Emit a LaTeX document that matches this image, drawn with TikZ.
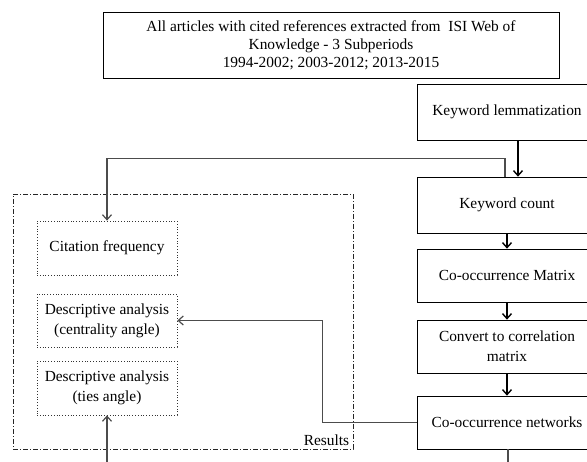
\documentclass[tikz,border=0pt]{standalone}
\usepackage{fontspec}
\setmainfont{Liberation Serif}
\usetikzlibrary{arrows.meta}
\begin{document}
\begin{tikzpicture}
      [x=1pt,y=-1pt,
      every node/.style={font=\fontsize{15.4}{20}\selectfont,align=center,inner sep=0pt},
      flowbox/.style={draw,line width=0.7pt,minimum width=180pt,minimum height=54pt},
      resbox/.style={draw=black!80,dotted,line width=0.8pt,minimum width=140pt,minimum height=54pt},
      arr/.style={line width=1.4pt,-{Straight Barb[length=5pt,width=9pt]}},
      fb/.style={draw=black!70,line width=1.2pt},
      fbarr/.style={fb,-{Straight Barb[length=5pt,width=9pt]}}]
      \useasboundingbox (0,0) rectangle (587,462);
      \clip (0,0) rectangle (587,462);
      \node[draw,line width=0.7pt,minimum width=456pt,minimum height=66pt,
        font=\fontsize{15.4}{18}\selectfont] (source) at (331,45)
        {All articles with cited references extracted from\ \ ISI Web of\\
        Knowledge - 3 Subperiods\\ 1994-2002; 2003-2012; 2013-2015};
      \node[flowbox,minimum height=56pt] (lemma) at (507,112) {Keyword lemmatization};
      \node[flowbox,minimum height=56pt] (count) at (507,205) {Keyword count};
      \node[flowbox,minimum height=53pt] (matrix) at (507,275.5) {Co-occurrence Matrix};
      \node[flowbox,minimum height=53pt] (convert) at (507,346.5) {Convert to correlation\\ matrix};
      \node[flowbox,minimum height=53pt] (network) at (507,422.5) {Co-occurrence networks};
      \node[draw=black!85,line width=0.7pt,dash pattern=on 5pt off 2pt on 1pt off 2pt,
        minimum width=340pt,minimum height=255pt] (results) at (183,321.5) {};
      \node[anchor=south east] (reslabel) at ([xshift=-4pt,yshift=3pt]results.south east) {Results};
      \node[resbox] (citation) at (107,248) {Citation frequency};
      \node[resbox,minimum height=53pt] (central) at (107,320.5) {Descriptive analysis\\ (centrality angle)};
      \node[resbox] (ties) at (107,388) {Descriptive analysis\\ (ties angle)};
      \coordinate (netout) at (508,470);
      \coordinate (tiesin) at (107,470);
      \draw[arr] ([xshift=11pt]lemma.south) -- ([xshift=11pt]count.north);
      \draw[arr] (count) -- (matrix);
      \draw[arr] (matrix) -- (convert);
      \draw[arr] (convert) -- (network);
      \draw[fb] (network.south -| netout) -- (netout);
      \draw[fbarr] ([xshift=-2pt]count.north) -- ++(0,-18) -| (citation.north);
      \draw[fbarr] (network.west) -| ([xshift=145pt]central.east) -- (central.east);
      \draw[fbarr] (tiesin) -- (ties.south);
    \end{tikzpicture}
\end{document}
